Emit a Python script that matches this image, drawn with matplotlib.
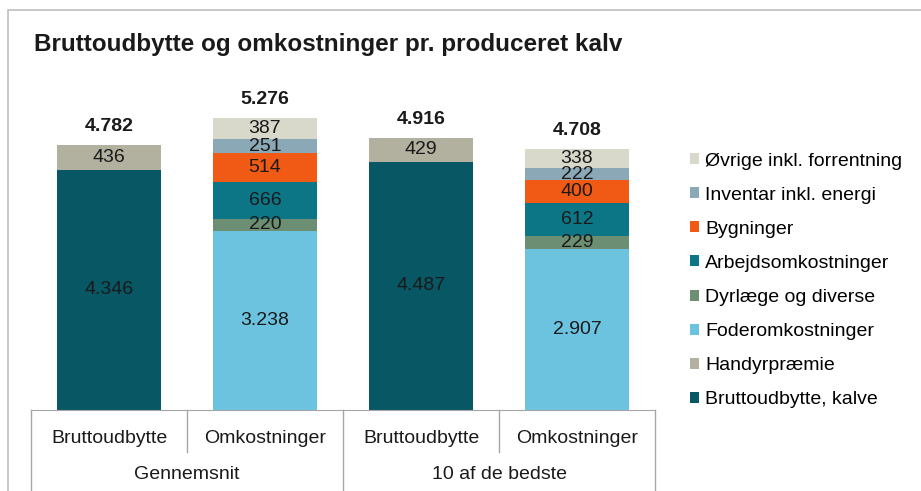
import matplotlib.pyplot as plt
import numpy as np
from matplotlib.patches import Rectangle
from matplotlib.lines import Line2D

plt.rcParams['font.family'] = ['Liberation Sans', 'DejaVu Sans']

# categories (bottom row) and groups (second row)
categories = ['Bruttoudbytte', 'Omkostninger', 'Bruttoudbytte', 'Omkostninger']
groups = ['Gennemsnit', '10 af de bedste']

# series, bottom of stack first
series_names = ['Bruttoudbytte, kalve', 'Handyrpræmie', 'Foderomkostninger',
                'Dyrlæge og diverse', 'Arbejdsomkostninger', 'Bygninger',
                'Inventar inkl. energi', 'Øvrige inkl. forrentning']
kalve = [4346, 0, 4487, 0]
handyr = [436, 0, 429, 0]
foder = [0, 3238, 0, 2907]
dyrlaege = [0, 220, 0, 229]
arbejd = [0, 666, 0, 612]
bygninger = [0, 514, 0, 400]
inventar = [0, 251, 0, 222]
ovrige = [0, 387, 0, 338]
totals = [4782, 5276, 4916, 4708]

colors = ['#075764', '#b2b09e', '#6cc3e0', '#6c8e72', '#0d7686',
          '#f05a14', '#8aa8b6', '#d9d9cb']

series = [kalve, handyr, foder, dyrlaege, arbejd, bygninger, inventar, ovrige]


def fmt(v):
    return f'{v:,}'.replace(',', '.')


fig = plt.figure(figsize=(9.21, 4.91), dpi=100)
W, H = 921, 491

# outer chart frame
fig.patches.append(Rectangle((8 / W, -0.1), 1.2, (H - 10) / H + 0.1,
                             transform=fig.transFigure, fill=False,
                             edgecolor='#bfbfbf', linewidth=1.2))

ax = fig.add_axes([31 / W, (H - 410) / H, 624 / W, 332 / H])
x = np.arange(len(categories))
bottom = np.zeros(len(categories))
for name, vals, c in zip(series_names, series, colors):
    vals = np.array(vals)
    ax.bar(x, vals, 0.67, bottom=bottom, color=c, label=name)
    for xi, b, v in zip(x, bottom, vals):
        if v > 0:
            ax.text(xi, b + v / 2, fmt(int(v)), ha='center', va='center',
                    fontsize=14, color='#1a1a1a')
    bottom += vals

for xi, t in zip(x, totals):
    ax.text(xi, t + 340, fmt(t), ha='center', va='center', fontsize=14,
            fontweight='bold', color='#1a1a1a')

ax.set_xlim(-0.5, 3.5)
ax.set_ylim(0, 6000)
for s in ['left', 'right', 'top']:
    ax.spines[s].set_visible(False)
ax.spines['bottom'].set_color('#a6a6a6')
ax.set_yticks([])
ax.set_xticks([])

# multi-level category axis
tr = ax.get_xaxis_transform()
for xs in [0.5, 2.5]:
    ax.add_line(Line2D([xs, xs], [0, -0.125], transform=tr, color='#a6a6a6',
                       linewidth=1, clip_on=False))
for xs in [-0.5, 1.5, 3.5]:
    ax.add_line(Line2D([xs, xs], [0, -0.26], transform=tr, color='#a6a6a6',
                       linewidth=1, clip_on=False))
for xi, lab in zip(x, categories):
    ax.text(xi, -0.085, lab, transform=tr, ha='center', va='center',
            fontsize=14, color='#1a1a1a')
for gi, g in enumerate(groups):
    ax.text(gi * 2 + 0.5, -0.195, g, transform=tr, ha='center', va='center',
            fontsize=14, color='#1a1a1a')

fig.text(34 / W, 1 - 45 / H, 'Bruttoudbytte og omkostninger pr. produceret kalv',
         fontsize=17.5, fontweight='bold', va='center', ha='left', color='#1a1a1a')

handles, labels = ax.get_legend_handles_labels()
leg = fig.legend(handles[::-1], labels[::-1], loc='upper left',
                 bbox_to_anchor=(672 / W, 1 - 135 / H), frameon=False,
                 fontsize=14, handlelength=0.5, handleheight=0.5,
                 handletextpad=0.3, labelspacing=0.88)

fig.savefig('out.png', dpi=100)
